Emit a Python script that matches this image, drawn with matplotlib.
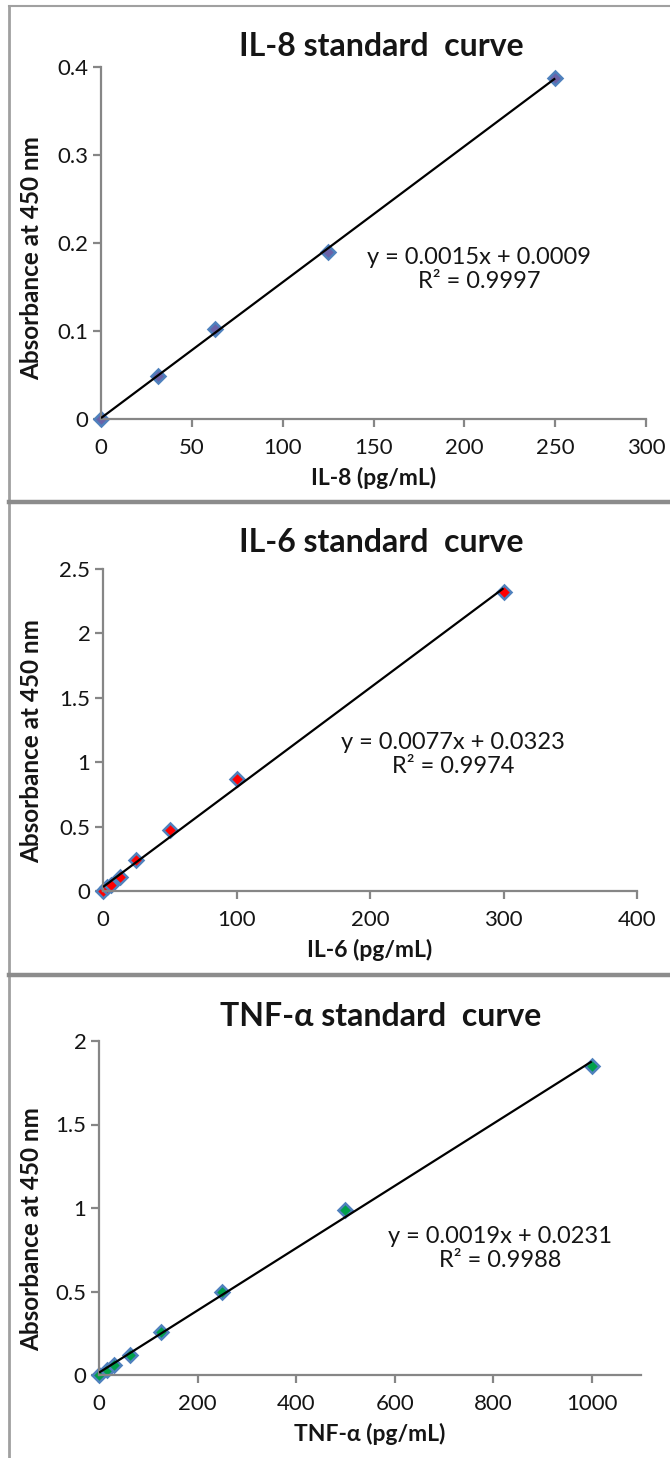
import numpy as np
import matplotlib
matplotlib.use("Agg")
import matplotlib.pyplot as plt
from matplotlib.lines import Line2D

plt.rcParams['font.family'] = ['Lato', 'DejaVu Sans']

# IL-8 standards
il8_conc = [0, 31.25, 62.5, 125, 250]
il8_abs = [0.0, 0.049, 0.102, 0.190, 0.388]
il8_eq = "y = 0.0015x + 0.0009\nR² = 0.9997"

# IL-6 standards
il6_conc = [0, 3.125, 6.25, 12.5, 25, 50, 100, 300]
il6_abs = [0.0, 0.03, 0.05, 0.11, 0.24, 0.47, 0.87, 2.32]
il6_eq = "y = 0.0077x + 0.0323\nR² = 0.9974"

# TNF-alpha standards
tnf_conc = [0, 15.6, 31.25, 62.5, 125, 250, 500, 1000]
tnf_abs = [0.0, 0.03, 0.06, 0.12, 0.26, 0.50, 0.99, 1.85]
tnf_eq = "y = 0.0019x + 0.0231\nR² = 0.9988"

W, H = 670, 1458
fig = plt.figure(figsize=(W / 100, H / 100), dpi=100)

AX_GRAY = '#868686'
EDGE_BLUE = '#4F81BD'
TEXT = '#151515'


def px_rect(x0, x1, y_top, y_bot):
    return [x0 / W, 1 - y_bot / H, (x1 - x0) / W, (y_bot - y_top) / H]


panels = [
    dict(rect=px_rect(101, 646, 67, 419), x=il8_conc, y=il8_abs, eq=il8_eq,
         xlim=(0, 300), xticks=np.arange(0, 301, 50), ylim=(0, 0.4),
         yticks=[0, 0.1, 0.2, 0.3, 0.4],
         title="IL-8 standard  curve", xlabel="IL-8 (pg/mL)",
         fill='#6A62A8', eqpos=(0.694, 0.425), title_y=46, label_dy=-15),
    dict(rect=px_rect(103, 637, 569, 891), x=il6_conc, y=il6_abs, eq=il6_eq,
         xlim=(0, 400), xticks=np.arange(0, 401, 100), ylim=(0, 2.5),
         yticks=[0, 0.5, 1, 1.5, 2, 2.5],
         title="IL-6 standard  curve", xlabel="IL-6 (pg/mL)",
         fill='#FF0000', eqpos=(0.656, 0.424), title_y=542, label_dy=-11),
    dict(rect=px_rect(99, 641, 1041, 1375), x=tnf_conc, y=tnf_abs, eq=tnf_eq,
         xlim=(0, 1100), xticks=np.arange(0, 1001, 200), ylim=(0, 2),
         yticks=[0, 0.5, 1, 1.5, 2],
         title="TNF-\u03b1 standard  curve", xlabel="TNF-\u03b1 (pg/mL)",
         fill='#00A04A', eqpos=(0.74, 0.378), title_y=1016, label_dy=-21),
]

for p in panels:
    ax = fig.add_axes(p['rect'])
    ax.set_xlim(*p['xlim'])
    ax.set_ylim(*p['ylim'])
    ax.set_xticks(p['xticks'])
    ax.set_yticks(p['yticks'])
    ax.set_yticklabels([f"{v:g}" for v in p['yticks']])
    for s in ('top', 'right'):
        ax.spines[s].set_visible(False)
    for s in ('left', 'bottom'):
        ax.spines[s].set_color(AX_GRAY)
        ax.spines[s].set_linewidth(1.6)
    ax.tick_params(axis='both', direction='out', length=6, width=1.6,
                   color=AX_GRAY, labelsize=16, labelcolor=TEXT)
    ax.tick_params(axis='x', pad=8)
    ax.tick_params(axis='y', pad=3)

    xs = np.asarray(p['x'], dtype=float)
    ys = np.asarray(p['y'], dtype=float)
    slope, intercept = np.polyfit(xs, ys, 1)
    xl = np.array([xs.min(), xs.max()])
    ax.plot(xl, slope * xl + intercept, color='black', lw=1.6, zorder=3,
            solid_capstyle='butt')
    ax.plot(xs, ys, linestyle='none', marker='D', markersize=7.5,
            markerfacecolor=p['fill'], markeredgecolor=EDGE_BLUE,
            markeredgewidth=1.8, zorder=2, clip_on=False)

    ax.text(p['eqpos'][0], p['eqpos'][1], p['eq'], transform=ax.transAxes,
            ha='center', va='center', multialignment='center',
            fontsize=17, color=TEXT, linespacing=1.2)

    ax.set_xlabel(p['xlabel'], fontsize=16.5, fontweight='bold', labelpad=6,
                  color=TEXT)
    ax.set_ylabel("Absorbance at 450 nm", fontsize=17.5, fontweight='bold',
                  color=TEXT)
    # y-label sits a little below the middle of the plot area
    ax_h_px = p['rect'][3] * H
    ax.yaxis.set_label_coords((43 - p['rect'][0] * W) / (p['rect'][2] * W),
                              0.5 + p['label_dy'] / ax_h_px)

    fig.text(381 / W, 1 - p['title_y'] / H, p['title'], ha='center',
             va='center', fontsize=23, fontweight='bold', color=TEXT)

# chart-area frames
BORDER = '#8C8C8C'
fig.add_artist(Line2D([9 / W, 1], [1 - 6 / H, 1 - 6 / H], color='#A0A0A0',
                      lw=1.5, transform=fig.transFigure))
fig.add_artist(Line2D([9 / W, 9 / W], [0, 1 - 6 / H], color='#A0A0A0',
                      lw=2.0, transform=fig.transFigure))
for yy in (502, 975):
    fig.add_artist(Line2D([9 / W, 1], [1 - yy / H, 1 - yy / H], color=BORDER,
                          lw=3.2, transform=fig.transFigure))

fig.savefig("out.png", dpi=100)
